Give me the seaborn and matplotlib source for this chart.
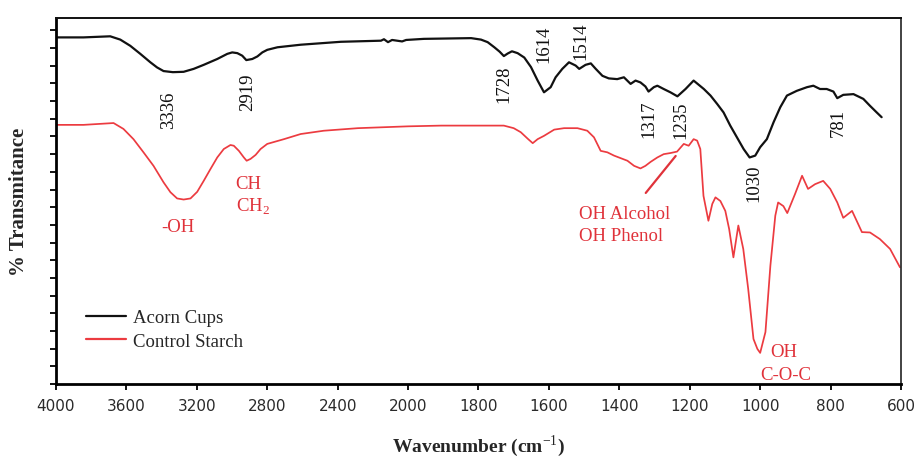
import numpy as np
import pandas as pd
import matplotlib
matplotlib.use("Agg")
import matplotlib.pyplot as plt
from matplotlib.ticker import FixedLocator, MultipleLocator, NullFormatter
import seaborn as sns

# FTIR spectra (wavenumber in cm-1, transmittance in relative units, offset traces)
acorn_wn = [4000, 3844, 3692, 3635, 3578, 3521, 3464, 3426, 3389, 3336, 3275, 3218,
            3161, 3084, 3027, 2999, 2970, 2942, 2919, 2885, 2856, 2828, 2800, 2742,
            2610, 2382, 2154, 2137, 2114, 2091, 2034, 2011, 1955, 1821, 1793, 1774,
            1755, 1740, 1728, 1717, 1705, 1689, 1670, 1651, 1632, 1614, 1595, 1581,
            1562, 1543, 1524, 1514, 1496, 1481, 1467, 1448, 1430, 1406, 1387, 1368,
            1354, 1340, 1326, 1317, 1302, 1292, 1274, 1255, 1235, 1212, 1189, 1160,
            1141, 1122, 1104, 1085, 1066, 1047, 1030, 1014, 1000, 981, 962, 943,
            924, 896, 867, 849, 830, 811, 792, 781, 764, 735, 707, 688, 669, 655]
acorn_t = [94.7, 94.7, 95.0, 94.1, 92.4, 90.2, 87.9, 86.5, 85.5, 85.2, 85.3, 86.1,
           87.2, 88.8, 90.2, 90.6, 90.4, 89.7, 88.5, 88.8, 89.5, 90.6, 91.3, 92.0,
           92.7, 93.5, 93.8, 94.2, 93.4, 94.0, 93.6, 94.0, 94.3, 94.5, 94.1, 93.4,
           92.0, 90.8, 89.6, 90.3, 90.9, 90.4, 89.2, 86.6, 82.9, 79.7, 81.1, 83.8,
           86.1, 87.9, 87.0, 86.1, 87.2, 87.6, 86.1, 84.2, 83.5, 83.3, 83.8, 82.0,
           82.9, 82.4, 81.3, 79.9, 81.1, 81.5, 80.6, 79.7, 78.6, 80.6, 82.9, 80.6,
           78.8, 76.5, 74.2, 70.6, 67.4, 64.2, 61.9, 62.4, 64.7, 66.9, 71.5, 75.6,
           78.8, 80.1, 81.1, 81.5, 80.6, 80.6, 79.9, 78.1, 79.0, 79.2, 77.9, 76.0,
           74.2, 72.9]

starch_wn = [4000, 3844, 3673, 3617, 3560, 3503, 3446, 3389, 3350, 3312, 3275, 3236,
             3198, 3161, 3123, 3084, 3047, 3009, 2990, 2961, 2933, 2917, 2895, 2866,
             2838, 2800, 2705, 2610, 2479, 2285, 2000, 1906, 1728, 1700, 1680, 1660,
             1646, 1632, 1614, 1585, 1557, 1519, 1491, 1472, 1453, 1434, 1415, 1396,
             1377, 1358, 1340, 1326, 1311, 1292, 1274, 1255, 1236, 1217, 1203, 1189,
             1179, 1170, 1161, 1147, 1136, 1127, 1113, 1099, 1088, 1076, 1068, 1062,
             1048, 1034, 1019, 1008, 1000, 985, 971, 957, 949, 934, 923, 901,
             881, 864, 844, 821, 801, 781, 764, 739, 711, 688, 660, 631, 603]
starch_t = [70.8, 70.8, 71.3, 69.7, 66.9, 63.3, 59.6, 55.1, 52.4, 50.7, 50.4, 50.7,
            52.5, 55.5, 58.7, 61.9, 64.2, 65.3, 65.1, 63.7, 61.9, 61.0, 61.5, 62.6,
            64.2, 65.6, 66.9, 68.3, 69.2, 69.9, 70.4, 70.6, 70.6, 69.9, 68.8, 67.0,
            65.8, 66.9, 67.8, 69.5, 69.9, 69.9, 69.2, 67.4, 63.7, 63.3, 62.4, 61.7,
            61.0, 59.6, 58.9, 59.6, 60.7, 61.9, 62.8, 63.1, 63.5, 65.6, 65.1, 66.9,
            66.5, 64.2, 51.4, 44.6, 49.2, 51.0, 50.0, 47.3, 42.3, 34.6, 39.6, 43.3,
            36.9, 26.0, 12.3, 9.6, 8.5, 14.2, 32.3, 46.0, 49.6, 48.6, 46.7, 51.9,
            56.9, 53.3, 54.6, 55.5, 53.3, 49.6, 45.4, 47.3, 41.5, 41.4, 39.6, 36.9,
            31.9]

series_names = ["Acorn Cups", "Control Starch"]
series_colors = ["#111111", "#ec3b40"]
series_widths = [1.6, 1.25]

# Band labels on the acorn cup trace: (text, wavenumber, y)
acorn_bands = [("3336", 3360, 75.1), ("2919", 2912, 80.1), ("1728", 1728, 82.2),
               ("1614", 1615, 93.0), ("1514", 1510, 94.0), ("1317", 1317, 72.5),
               ("1235", 1226, 72.4), ("1030", 1019, 55.1), ("781", 779, 71.7)]

# Functional group labels on the starch trace: (text, wavenumber, y, alignment)
starch_groups = [("-OH", 3305, 42.9, "center"), ("CH", 2980, 54.8, "left"),
                 ("CH$_2$", 2980, 48.6, "left"), ("OH Alcohol", 1515, 46.6, "left"),
                 ("OH Phenol", 1515, 40.6, "left"), ("OH", 971, 9.0, "left"),
                 ("C-O-C", 1000, 2.7, "left")]

xtick_values = [4000, 3600, 3200, 2800, 2400, 2000, 1800, 1600, 1400, 1200, 1000, 800, 600]

df = pd.concat([
    pd.DataFrame({"wavenumber": acorn_wn, "transmittance": acorn_t, "sample": series_names[0]}),
    pd.DataFrame({"wavenumber": starch_wn, "transmittance": starch_t, "sample": series_names[1]}),
], ignore_index=True)

sns.set_style("ticks")
plt.rcParams["font.family"] = ["Liberation Serif", "DejaVu Serif"]
plt.rcParams["mathtext.fontset"] = "custom"
plt.rcParams["mathtext.rm"] = "Liberation Serif"

fig = plt.figure(figsize=(9.2, 4.6), dpi=100)
ax = fig.add_axes([56 / 920, 1 - 385 / 460, 845 / 920, 366 / 460])

# Spectrometer-style axis: 2000 cm-1 and below shown at twice the scale
def fwd(x):
    x = np.asarray(x, dtype=float)
    return np.where(x > 2000, 2000 + (x - 2000) / 2.0, x)

def inv(y):
    y = np.asarray(y, dtype=float)
    return np.where(y > 2000, 2000 + (y - 2000) * 2.0, y)

ax.set_xscale("function", functions=(fwd, inv))

sns.lineplot(data=df, x="wavenumber", y="transmittance", hue="sample",
             hue_order=series_names,
             palette=dict(zip(series_names, series_colors)), estimator=None,
             sort=False, linewidth=1.4, ax=ax, legend=False)
for line, lw in zip(ax.lines, series_widths):
    line.set_linewidth(lw)

ax.set_xlim(4000, 600)
ax.set_ylim(0, 100)

ax.xaxis.set_major_locator(FixedLocator(xtick_values))
ax.set_xticklabels([str(v) for v in xtick_values], family="DejaVu Sans",
                   fontsize=11, color="#2a2a2a")
ax.xaxis.set_minor_formatter(NullFormatter())
ax.xaxis.set_minor_locator(FixedLocator([]))
ax.yaxis.set_major_locator(MultipleLocator(100 / 20.7))
ax.yaxis.set_major_formatter(NullFormatter())
ax.tick_params(axis="both", direction="out", length=4, width=1.3, color="black")
ax.tick_params(axis="x", pad=6)

for side in ["left", "bottom"]:
    ax.spines[side].set_linewidth(2.0)
    ax.spines[side].set_color("black")
ax.spines["top"].set_linewidth(1.4)
ax.spines["right"].set_linewidth(1.2)
ax.spines["top"].set_color("#111111")
ax.spines["right"].set_color("#222222")

ax.set_xlabel("Wavenumber (cm$^{-1}$)", fontsize=14, fontweight="bold", labelpad=14)
ax.set_ylabel("% Transmitance", fontsize=15, fontweight="bold", labelpad=12)

for text, wn, y in acorn_bands:
    ax.text(wn, y, text, rotation=90, ha="center", va="center",
            fontsize=13.5, color="#111111")

red_text = "#e0323a"
for text, wn, y, ha in starch_groups:
    ax.text(wn, y, text, ha=ha, va="center", fontsize=13.5, color=red_text)

ax.plot([1325, 1240], [52.2, 62.3], color=red_text, linewidth=1.6)

handles = [plt.Line2D([], [], color=c, linewidth=1.6) for c in series_colors]
ax.legend(handles, series_names, loc="upper left", bbox_to_anchor=(0.036, 0.205),
          frameon=False, fontsize=13.5, handlelength=2.1, handletextpad=0.4,
          labelspacing=0.35, borderpad=0, borderaxespad=0)

fig.savefig("out.png", dpi=100)
